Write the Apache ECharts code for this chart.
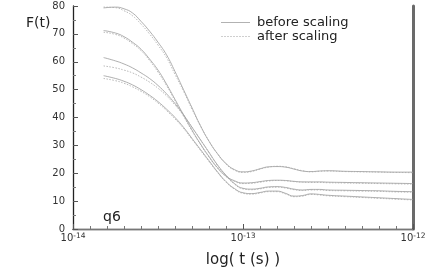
<!DOCTYPE html>
<html><head><meta charset="utf-8">
<script src="https://cdn.jsdelivr.net/npm/echarts@6/dist/echarts.min.js"></script>
<style>html,body{margin:0;padding:0;background:#fff}#c{width:436px;height:273px}</style>
</head><body><div id="c"></div>
<script>
// log10 of time (s)
var logT = [-13.82,-13.75,-13.7,-13.65,-13.6,-13.55,-13.5,-13.45,-13.4,-13.35,-13.3,-13.25,-13.2,-13.15,-13.1,-13.05,-13.0,-12.95,-12.9,-12.85,-12.8,-12.75,-12.7,-12.65,-12.6,-12.55,-12.5,-12.4,-12.3,-12.2,-12.1,-12.0];
var xTicks = [-14, -13, -12];
var yTicks = [0,10,20,30,40,50,60,70,80];

var beforeA = [79.3,79.6,79.0,77.5,74.5,71,67,62.5,56.5,50,43.5,37,31.5,27,23.5,21.3,20.5,20.8,21.6,22.3,22.4,22.2,21.5,20.8,20.6,20.8,20.9,20.7,20.6,20.5,20.4,20.4];
var afterA  = [79.6,79.4,78.3,76.5,73.5,70,66,61.5,55.5,49.5,43,37,31.5,27,23.3,21.1,20.3,20.6,21.5,22.2,22.5,22.3,21.6,20.9,20.5,20.7,20.8,20.6,20.5,20.4,20.3,20.2];
var beforeB = [71.2,70.3,69,67,64.5,61,57,52,46.5,41,35.5,30.5,26,22,19,17.3,16.5,16.6,17.0,17.4,17.5,17.4,17.1,16.9,16.9,16.9,16.8,16.7,16.6,16.5,16.4,16.3];
var afterB  = [70.6,69.8,68.5,66.5,64,60.5,56.3,51.5,46,40.5,35.2,30.3,25.8,21.8,18.8,17.1,16.3,16.4,16.8,17.2,17.4,17.3,17.0,16.8,16.7,16.7,16.6,16.5,16.4,16.3,16.2,16.1];
var beforeC = [61.5,60.3,59.2,57.8,56,54,51.5,48.5,45,41,36.5,32,27.5,23,19.3,16.3,14.6,14.3,14.6,15.1,15.2,14.9,14.3,14.0,14.2,14.2,14.0,13.9,13.8,13.7,13.5,13.4];
var afterC  = [58.5,57.8,57,56,54.5,52.7,50.5,47.8,44.5,40.8,36.5,32,27.4,22.8,19.1,16.1,14.4,14.1,14.4,14.9,15.0,14.7,14.1,13.8,14.0,14.0,13.8,13.7,13.6,13.5,13.3,13.2];
var beforeD = [55,54,53,51.7,50,48,45.7,43,40,36.5,32.5,28.5,24.5,20.5,17,14.5,13.0,12.7,13.1,13.6,13.6,12.8,11.8,12.0,12.6,12.4,12.1,11.8,11.5,11.2,10.9,10.6];
var afterD  = [54,53.2,52.3,51,49.4,47.5,45.2,42.5,39.5,36.1,32.2,28.2,24.2,20.3,16.8,14.3,12.8,12.5,12.9,13.4,13.4,12.6,11.6,11.8,12.4,12.2,11.9,11.6,11.3,11.0,10.7,10.4];

var beforeList = [beforeA, beforeB, beforeC, beforeD];
var afterList = [afterA, afterB, afterC, afterD];

function pairs(arr){ return logT.map(function(t,i){ return [t, arr[i]]; }); }
var FONT = 'DejaVu Sans';
var series = [];
beforeList.forEach(function(a){
  series.push({name:'before scaling', type:'line', data:pairs(a), symbol:'none', smooth:true,
    lineStyle:{color:'#9a9a9a', width:0.8, type:'solid'}, itemStyle:{color:'#9a9a9a'}});
});
afterList.forEach(function(a){
  series.push({name:'after scaling', type:'line', data:pairs(a), symbol:'none', smooth:true,
    lineStyle:{color:'#a8a8a8', width:0.8, type:[1.5,1.5]}, itemStyle:{color:'#a8a8a8'}});
});

var solidIcon = 'path://M0,0H30V1H0Z';
var dotIcon = 'path://M0,0H1V1H0ZM3,0H4V1H3ZM6,0H7V1H6ZM9,0H10V1H9ZM12,0H13V1H12ZM15,0H16V1H15ZM18,0H19V1H18ZM21,0H22V1H21ZM24,0H25V1H24ZM27,0H28V1H27Z';

var chart = echarts.init(document.getElementById('c'));
chart.setOption({
  animation:false,
  backgroundColor:'#fff',
  grid:{left:73, right:23, top:6, bottom:30},
  title:{text:'F(t)', left:21, top:11, textStyle:{fontFamily:FONT, fontSize:14, fontWeight:'normal', color:'#222'}},
  legend:{orient:'vertical', left:216, top:11, itemWidth:29, itemHeight:1, itemGap:1,
    data:[{name:'before scaling', icon:solidIcon, itemStyle:{color:'#b0b0b0'}},
          {name:'after scaling', icon:dotIcon, itemStyle:{color:'#a0a0a0'}}],
    textStyle:{fontFamily:FONT, fontSize:13, color:'#222', padding:[0,0,0,2], lineHeight:13}},
  graphic:[{type:'text', left:103, top:210, style:{text:'q6', font:'14px "DejaVu Sans"', fill:'#222'}}],
  xAxis:[{type:'value', min:xTicks[0], max:xTicks[xTicks.length-1], interval:1,
    name:'log( t (s) )', nameLocation:'middle', nameGap:24,
    nameTextStyle:{fontFamily:FONT, fontSize:15, color:'#222'},
    axisLine:{lineStyle:{color:'#222', width:1.3}},
    axisTick:{inside:true, length:5, lineStyle:{color:'#555'}},
    minorTick:{show:true, splitNumber:10, length:3, lineStyle:{color:'#777'}},
    splitLine:{show:false},
    axisLabel:{margin:3, formatter:function(v){ return '10{s|' + v + '}'; },
      rich:{s:{fontSize:7.5, fontFamily:FONT, color:'#333', verticalAlign:'top', lineHeight:8}},
      fontFamily:FONT, fontSize:10, color:'#333', lineHeight:12}},
   {type:'value', position:'top', min:-14, max:-12, axisLine:{lineStyle:{color:'#777', width:1}},
    axisTick:{show:false}, axisLabel:{show:false}, splitLine:{show:false}}],
  yAxis:[{type:'value', min:yTicks[0], max:yTicks[yTicks.length-1], interval:10,
    axisLine:{show:true, lineStyle:{color:'#222', width:1.3}},
    axisTick:{inside:true, length:5, lineStyle:{color:'#555'}},
    minorTick:{show:true, splitNumber:2, length:3, lineStyle:{color:'#777'}},
    splitLine:{show:false},
    axisLabel:{margin:8, fontFamily:FONT, fontSize:10, color:'#333'}},
   {type:'value', position:'right', min:0, max:80, axisLine:{show:true, lineStyle:{color:'#6a6a6a', width:3}},
    axisTick:{show:false}, axisLabel:{show:false}, splitLine:{show:false}}],
  series:series
});
</script></body></html>
